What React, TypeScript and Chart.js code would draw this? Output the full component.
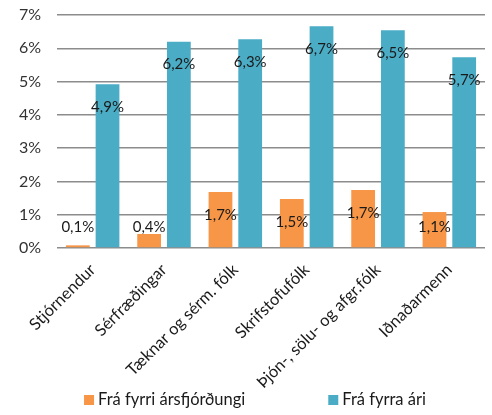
import React, { useEffect, useRef } from "react";
import { Chart, registerables } from "chart.js";

Chart.register(...registerables);

const categories = [
  "Stjórnendur",
  "Sérfræðingar",
  "Tæknar og sérm. fólk",
  "Skrifstofufólk",
  "Þjón-, sölu- og afgr.fólk",
  "Iðnaðarmenn",
];
const seriesQuarter = [0.1, 0.4, 1.7, 1.5, 1.7, 1.1];
const seriesYear = [4.9, 6.2, 6.3, 6.7, 6.5, 5.7];
const quarterLabel = "Frá fyrri ársfjórðungi";
const yearLabel = "Frá fyrra ári";
// bar heights as drawn (labels show rounded values)
const quarterHeights = [0.08, 0.42, 1.68, 1.47, 1.74, 1.08];
const yearHeights = [4.92, 6.2, 6.27, 6.66, 6.54, 5.73];

const FONT = "Lato, 'Open Sans', sans-serif";
const ORANGE = "#F79646";
const BLUE = "#4BACC6";

const labelPlugin = {
  id: "barLabels",
  afterDatasetsDraw(chart: any) {
    const ctx = chart.ctx;
    ctx.save();
    ctx.font = `15px ${FONT}`;
    ctx.fillStyle = "#1a1a1a";
    ctx.textAlign = "center";
    ctx.textBaseline = "middle";
    const sources = [seriesQuarter, seriesYear];
    chart.data.datasets.forEach((ds: any, di: number) => {
      const meta = chart.getDatasetMeta(di);
      meta.data.forEach((bar: any, i: number) => {
        const v = sources[di][i];
        const txt = v.toFixed(1).replace(".", ",") + "%";
        const y = Math.min(bar.y + 23, bar.base - 20);
        ctx.fillText(txt, bar.x, y);
      });
    });
    ctx.restore();
  },
};

const legendPlugin = {
  id: "customLegend",
  afterDraw(chart: any) {
    const ctx = chart.ctx;
    ctx.save();
    ctx.font = `16.5px ${FONT}`;
    ctx.textBaseline = "middle";
    ctx.textAlign = "left";
    const items = chart.data.datasets.map((d: any) => ({
      label: d.label,
      color: d.backgroundColor,
    }));
    const box = 10;
    const gapBoxText = 4;
    const gapItems = 83;
    const widths = items.map(
      (it: any) => box + gapBoxText + ctx.measureText(it.label).width
    );
    const total = widths.reduce((a: number, b: number) => a + b, 0) + gapItems;
    let x = chart.width / 2 + 9 - total / 2;
    const y = 400;
    items.forEach((it: any, i: number) => {
      ctx.fillStyle = it.color;
      ctx.fillRect(x, y - box / 2, box, box);
      ctx.fillStyle = "#1a1a1a";
      ctx.fillText(it.label, x + box + gapBoxText, y);
      x += widths[i] + gapItems;
    });
    ctx.restore();
  },
};

export default function App() {
  const ref = useRef<HTMLCanvasElement>(null);
  useEffect(() => {
    document.body.style.margin = "0";
    const chart = new Chart(ref.current!, {
      type: "bar",
      data: {
        labels: categories,
        datasets: [
          {
            label: quarterLabel,
            data: quarterHeights,
            backgroundColor: ORANGE,
            categoryPercentage: 0.833,
            barPercentage: 0.8,
          },
          {
            label: yearLabel,
            data: yearHeights,
            backgroundColor: BLUE,
            categoryPercentage: 0.833,
            barPercentage: 0.8,
          },
        ],
      },
      options: {
        animation: false,
        responsive: false,
        layout: { padding: { top: 15, right: 7, left: 0, bottom: 0 } },
        plugins: {
          tooltip: { enabled: false },
          legend: { display: false },
        },
        scales: {
          x: {
            grid: { display: false },
            border: { display: false },
            ticks: {
              autoSkip: false,
              maxRotation: 45,
              minRotation: 45,
              color: "#1a1a1a",
              font: { family: FONT, size: 16.5 },
              padding: 4,
            },
            afterFit(scale: any) {
              scale.height = 167;
              scale.paddingLeft = 0;
              scale.paddingRight = 0;
            },
          },
          y: {
            min: 0,
            max: 7,
            ticks: {
              stepSize: 1,
              padding: 16,
              color: "#333",
              font: { family: FONT, size: 16 },
              callback: (v: any) => v + "%",
            },
            grid: { color: "#8c8c8c", lineWidth: 1.5, drawTicks: false },
            border: { display: false },
            afterFit(scale: any) {
              scale.width = 57;
              scale.paddingTop = 0;
              scale.paddingBottom = 0;
            },
          },
        },
      },
      plugins: [labelPlugin, legendPlugin],
    });
    return () => chart.destroy();
  }, []);
  return <canvas ref={ref} width={492} height={415} />;
}
